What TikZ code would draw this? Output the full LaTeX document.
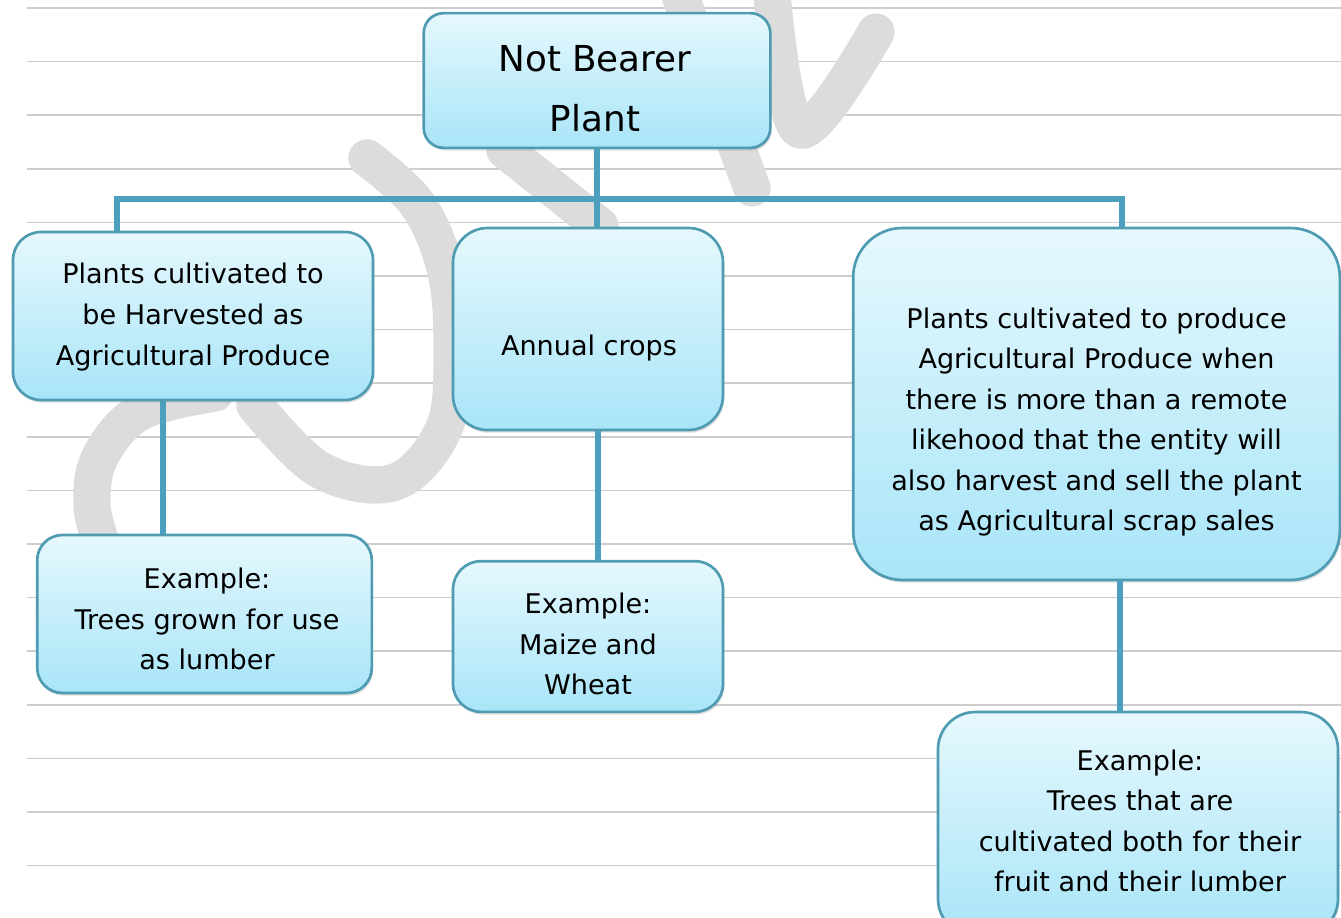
\documentclass[tikz,border=0pt]{standalone}
\usepackage{fontspec}
\setmainfont{DejaVu Sans}
\usetikzlibrary{shadows}
\definecolor{edge}{RGB}{78,155,178}
\definecolor{wire}{RGB}{76,160,190}
\definecolor{topfill}{RGB}{230,248,253}
\definecolor{botfill}{RGB}{168,229,248}
\definecolor{rule}{RGB}{205,205,205}
\definecolor{mark}{RGB}{220,220,220}
\begin{document}
\begin{tikzpicture}[x=0.75pt,y=-0.75pt,
  box/.style={draw=edge, line width=2pt, top color=topfill, bottom color=botfill,
    inner sep=0pt, drop shadow={opacity=0.25, shadow xshift=1pt, shadow yshift=-2pt}},
  txt/.style={align=center, inner sep=0pt, text=black,
    font=\fontsize{20.3}{30.4}\selectfont},
  bigtxt/.style={txt, font=\fontsize{26.8}{45}\selectfont},
  conn/.style={draw=wire, line width=4pt},
  ruleline/.style={draw=rule, line width=1.1pt},
  wm/.style={draw=mark, line width=28pt, line cap=round, line join=round}]

% page and ruled paper
\useasboundingbox (0,0) rectangle (1341,917);
\clip (0,0) rectangle (1341,917);
\fill[white] (0,0) rectangle (1341,917);
\foreach \k in {0,...,16}
  \draw[ruleline] (27,{8+53.6*\k}) -- (1341,{8+53.6*\k});

% faint brush-stroke mark in the background
\draw[wm] plot[smooth, tension=0.6] coordinates
  {(367,158) (418,205) (446,272) (452,350) (444,428) (395,482) (320,470) (255,405)};
\draw[wm] plot[smooth, tension=0.6] coordinates
  {(215,393) (140,412) (100,457) (92,505) (102,545)};
\draw[wm] (680,-5) -- (752,188);
\draw[wm] plot[smooth, tension=0.6] coordinates {(772,-5) (800,130) (876,32)};
\draw[wm] (505,150) -- (600,226);

% boxes
\node[box, rounded corners=15pt, minimum width=260pt, minimum height=101pt] (root) at (597,80.5) {};
\node[box, rounded corners=21pt, minimum width=270pt, minimum height=126pt] (L1) at (193,316) {};
\node[box, rounded corners=19pt, minimum width=251pt, minimum height=118.5pt] (L2) at (204.5,614) {};
\node[box, rounded corners=26pt, minimum width=202.5pt, minimum height=151.5pt] (M1) at (588,329) {};
\node[box, rounded corners=21pt, minimum width=202.5pt, minimum height=113pt] (M2) at (588,636.5) {};
\node[box, rounded corners=37pt, minimum width=365pt, minimum height=264pt] (R1) at (1096.5,404) {};
\node[box, rounded corners=28pt, minimum width=300pt, minimum height=168pt] (R2) at (1138,824) {};

% texts
\node[bigtxt] (rootT) at (595,89) {Not Bearer\\Plant};
\node[txt] (L1T) at (193,317) {Plants cultivated to\\be Harvested as\\Agricultural Produce};
\node[txt] (L2T) at (207,619) {Example:\\Trees grown for use\\as lumber};
\node[txt] (M1T) at (589,348) {Annual crops};
\node[txt] (M2T) at (588,644) {Example:\\Maize and\\Wheat};
\node[txt] (R1T) at (1096.5,422) {Plants cultivated to produce\\Agricultural Produce when\\there is more than a remote\\likehood that the entity will\\also harvest and sell the plant\\as Agricultural scrap sales};
\node[txt] (R2T) at (1140,821) {Example:\\Trees that are\\cultivated both for their\\fruit and their lumber};

% connectors
\coordinate (busL) at (117,199);
\coordinate (busR) at (1122,199);
\draw[conn] (L1.north -| busL) -- (busL) -- (busR) -- (R1.north -| busR);
\draw[conn] (root.south) -- (root.south |- M1.north);
\draw[conn] ([xshift=-22.5pt]L1.south) -- ([xshift=-22.5pt]L1.south |- L2.north);
\draw[conn] ([xshift=7.5pt]M1.south) -- ([xshift=7.5pt]M1.south |- M2.north);
\draw[conn] ([xshift=17.5pt]R1.south) -- ([xshift=17.5pt]R1.south |- R2.north);
\end{tikzpicture}
\end{document}
